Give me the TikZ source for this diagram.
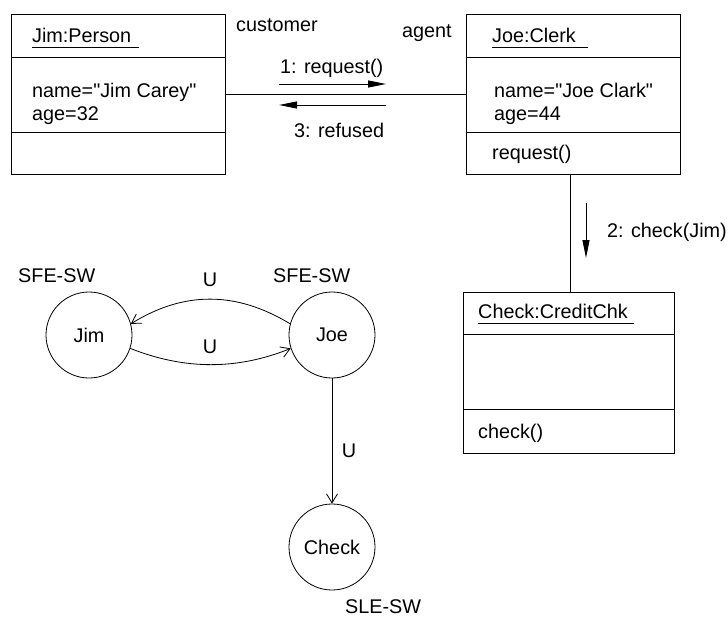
\documentclass[tikz,border=0pt]{standalone}
\usepackage{fontspec}
\setmainfont{Liberation Sans}[Ligatures=TeXOff]
\usetikzlibrary{arrows.meta}
\newcommand{\lbl}{\fontsize{19.8}{24}\selectfont}
\tikzset{
  objbox/.style={draw, line width=1pt, inner sep=0pt, anchor=north west},
  txt/.style={anchor=base west, inner sep=0pt, font=\lbl},
  divider/.style={line width=1pt},
  underl/.style={line width=0.9pt},
  state/.style={draw, circle, minimum size=86pt, inner sep=0pt, line width=0.8pt, font=\lbl},
  msg/.style={line width=0.9pt, -{Triangle[length=18pt,width=7pt]}},
  flow/.style={line width=0.8pt, -{Straight Barb[length=9pt,width=11pt]}},
  link/.style={line width=0.9pt},
}
\begin{document}
\begin{tikzpicture}[x=1pt,y=-1pt]
\useasboundingbox (0,0) rectangle (728,616);

% ---- object boxes ----
\node[objbox, minimum width=214pt, minimum height=160pt] (jimbox) at (11,14) {};
\node[objbox, minimum width=214pt, minimum height=160pt] (joebox) at (466,14) {};
\node[objbox, minimum width=211pt, minimum height=161pt] (chkbox) at (463,292) {};

\draw[divider] (jimbox.west |- 0,57) -- (jimbox.east |- 0,57);
\draw[divider] (jimbox.west |- 0,132) -- (jimbox.east |- 0,132);
\draw[divider] (joebox.west |- 0,57) -- (joebox.east |- 0,57);
\draw[divider] (joebox.west |- 0,132) -- (joebox.east |- 0,132);
\draw[divider] (chkbox.west |- 0,334) -- (chkbox.east |- 0,334);
\draw[divider] (chkbox.west |- 0,409) -- (chkbox.east |- 0,409);

% titles (underlined)
\node[txt] (jimtitle) at (32,42) {Jim:Person};
\draw[underl] (32,47) -- (139,47);
\node[txt] (joetitle) at (492,42) {Joe:Clerk};
\draw[underl] (492,47) -- (588,47);
\node[txt] (chktitle) at (478,318) {Check:CreditChk};
\draw[underl] (478,323) -- (634,323);

% attributes and operations
\node[txt] (jimname) at (32,97) {name="Jim Carey"};
\node[txt] (jimage) at (32,120) {age=32};
\node[txt] (joename) at (494,97) {name="Joe Clark"};
\node[txt] (joeage) at (494,120) {age=44};
\node[txt] (joeop) at (492,159) {request()};
\node[txt] (chkop) at (478,438) {check()};

% roles
\node[txt] (customer) at (236,31) {customer};
\node[txt] (agent) at (402,37) {agent};

% links
\draw[link] (jimbox) -- (joebox);
\coordinate (lnkx) at (570,0);
\draw[link] (joebox.south -| lnkx) -- (chkbox.north -| lnkx);

% messages
\coordinate (m1a) at (279,84);
\coordinate (m1b) at (386,84);
\draw[msg] (m1a) -- (m1b);
\node[txt] (m1) at (280,73) {1: request()};

\coordinate (m3a) at (386,105);
\coordinate (m3b) at (279,105);
\draw[msg] (m3a) -- (m3b);
\node[txt] (m3) at (294,137) {3: refused};

\coordinate (m2a) at (586,203);
\coordinate (m2b) at (586,258);
\draw[msg] (m2a) -- (m2b);
\node[txt] (m2) at (607,237) {2: check(Jim)};

% ---- state graph ----
\node[state] (jim) at (89,335) {Jim};
\node[state] (joe) at (332,335) {Joe};
\node[state] (check) at (332,547) {Check};

\node[txt] (sfe1) at (18,282) {SFE-SW};
\node[txt] (sfe2) at (273,282) {SFE-SW};
\node[txt] (sle) at (345,613) {SLE-SW};

\draw[flow] (joe.165) .. controls (236,291) and (184,291) .. (jim.15);
\draw[flow] (jim.-18) .. controls (185,370) and (237,370) .. (joe.198);
\draw[flow] (joe) -- (check);

\node[font=\lbl, inner sep=0pt] (u1) at (210,280) {U};
\node[font=\lbl, inner sep=0pt] (u2) at (210,347) {U};
\node[font=\lbl, inner sep=0pt] (u3) at (349,451) {U};
\end{tikzpicture}
\end{document}
